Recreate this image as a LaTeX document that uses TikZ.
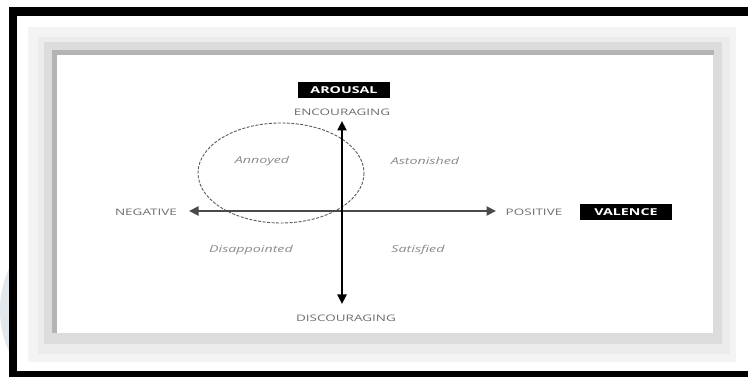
\documentclass[tikz,border=0pt]{standalone}
\usepackage{fontspec}
\usepackage{tikz}
\usetikzlibrary{arrows.meta,positioning}
\newfontfamily\labelfont[FakeStretch=1.5]{Open Sans}
\definecolor{frameblack}{HTML}{000000}
\definecolor{shadowlight}{HTML}{F4F4F4}
\definecolor{shadowmid}{HTML}{DCDCDC}
\definecolor{shadowdark}{HTML}{B4B4B4}
\definecolor{textmuted}{HTML}{6E6E6E}
\definecolor{textsoft}{HTML}{8A8A8A}
\definecolor{axisgray}{HTML}{4A4A4A}
\definecolor{dashgray}{HTML}{5A5A5A}
\definecolor{watermark}{HTML}{E2E7EB}

\begin{document}
\begin{tikzpicture}[x=1pt,y=-1pt,
    axislabel/.style={font=\labelfont\fontsize{9}{10}\selectfont,text=textmuted,inner sep=0pt},
    mood/.style={font=\labelfont\itshape\fontsize{9.5}{11}\selectfont,text=textsoft,inner sep=0pt},
    tagbox/.style={fill=black,text=white,font=\labelfont\bfseries\fontsize{9.5}{10}\selectfont,
      minimum width=92pt,minimum height=16pt,inner sep=0pt},
    axis/.style={line width=2.6pt,{Triangle[length=9.5pt,width=9pt]}-{Triangle[length=9.5pt,width=9pt]}}]
  \useasboundingbox (0,0) rectangle (748,377);
  \fill[white] (0,0) rectangle (748,377);
  % faint mark at the left edge
  \fill[watermark] (100,310) circle[radius=100];
  \fill[white] (17,16) rectangle (748,371);
  % soft shadow round the panel
  \fill[shadowlight] (28,27) rectangle (736,362);
  \fill[shadowmid!55!white] (38,37) rectangle (730,354);
  \fill[shadowmid] (44,42) rectangle (722,344);
  \fill[shadowdark] (52,50) rectangle (714,55);
  \fill[shadowdark] (52,50) rectangle (57,333);
  \fill[white] (57,55) rectangle (713,333);
  % black frame (top, left, bottom)
  \fill[frameblack] (9,7) rectangle (748,16);
  \fill[frameblack] (9,7) rectangle (17,377);
  \fill[frameblack] (9,371) rectangle (748,377);

  \coordinate (up) at (342,121);
  \coordinate (down) at (342,304);
  \coordinate (left) at (189,211);
  \coordinate (right) at (496,211);

  \draw[dashgray,line width=0.9pt,dash pattern=on 3pt off 1.5pt] (281,173) ellipse[x radius=83,y radius=50];
  \draw[axis,color=axisgray] (left) -- (right);
  \draw[axis,color=black] (down) -- (up);

  \node[tagbox] (arousal) at (344,90) {AROUSAL};
  \node[axislabel] (encouraging) at (342,112) {ENCOURAGING};
  \node[axislabel] (discouraging) at (346,318) {DISCOURAGING};
  \node[axislabel] (negative) at (146,212) {NEGATIVE};
  \node[axislabel] (positive) at (534,212) {POSITIVE};
  \node[tagbox] (valence) at (626,212) {VALENCE};

  \foreach \name/\x/\y/\txt in {annoyed/262/161/Annoyed,astonished/425/161/Astonished,
      disappointed/251/250/Disappointed,satisfied/418/250/Satisfied}{
    \node[mood] (\name) at (\x,\y) {\txt};
  }
\end{tikzpicture}
\end{document}
